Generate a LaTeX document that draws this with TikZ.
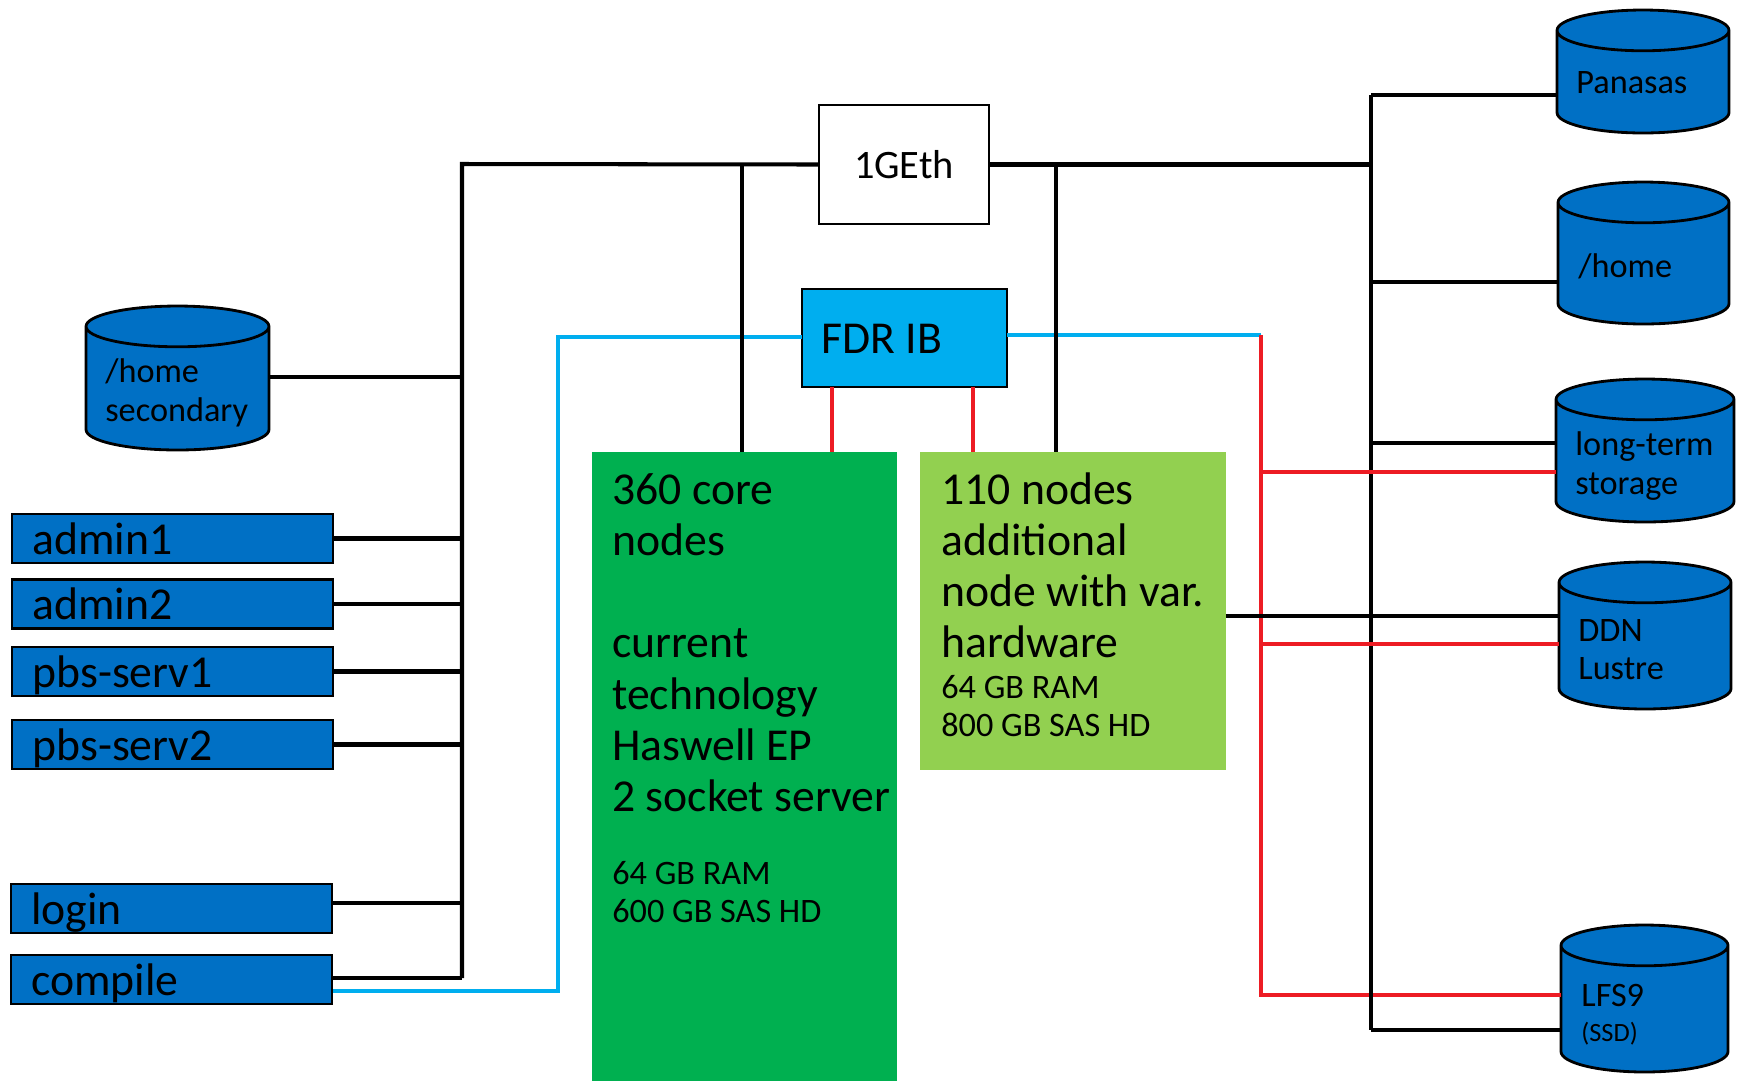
\documentclass[tikz,border=0pt]{standalone}
\usepackage{fontspec}
\setmainfont{Carlito}
\usetikzlibrary{shapes.geometric}
\definecolor{diskblue}{HTML}{0070C5}
\definecolor{ibcyan}{HTML}{00AEEF}
\definecolor{coregreen}{HTML}{00B050}
\definecolor{addlime}{HTML}{92D050}
\definecolor{ibred}{HTML}{ED1C24}
\newcommand{\bigtxt}{\fontsize{26}{29.2}\selectfont}
\newcommand{\smalltxt}{\fontsize{19.5}{21.8}\selectfont}
\tikzset{
server/.style={
       rectangle,
       fill=diskblue,
       draw=black,
       line width=1.6pt,
       minimum width=6.42cm,
       minimum height=0.98cm,
       outer sep=0pt,
       inner sep=0pt,
       },
disk/.style={
       cylinder,
       anchor=shape center,
       shape border rotate=90,
       shape aspect=5.8,
       fill=diskblue,
       draw=black,
       line width=1.6pt,
       outer sep=0pt,
       inner sep=2pt,
       },
switchbox/.style={
       rectangle,
       draw=black,
       line width=1.6pt,
       outer sep=0pt,
       },
nodeblock/.style={
       rectangle,
       outer sep=0pt,
       },
label/.style={
       anchor=west,
       inner sep=0pt,
       align=left,
       },
eth/.style={draw=black, line width=2.3pt},
ibc/.style={draw=ibcyan, line width=2.3pt},
ibr/.style={draw=ibred, line width=2.3pt},
}

\begin{document}
\begin{tikzpicture}[x=0.02cm,y=-0.02cm]
      \useasboundingbox (0,-1) rectangle (1741,1079);

      % switches and node blocks
      \node [switchbox, fill=white, minimum width=3.4cm, minimum height=2.38cm] (geth) at (904,163.5) {};
      \node [label, font=\fontsize{23}{29}\selectfont, anchor=center] (gethtxt) at (geth.center) {1GEth};
      \node [switchbox, fill=ibcyan, minimum width=4.1cm, minimum height=1.96cm] (fdr) at (904.5,337) {};
      \node [label, font=\bigtxt] (fdrtxt) at (821,338) {FDR IB};
      \node [nodeblock, fill=coregreen, minimum width=6.1cm, minimum height=12.58cm] (core) at (744.5,765.5) {};
      \node [nodeblock, fill=addlime, minimum width=6.12cm, minimum height=6.36cm] (extra) at (1073,610) {};
      \node [label, font=\bigtxt, anchor=north west] (coretxt) at (612,472) {360 core\\ nodes\\[29pt] current\\ technology\\ Haswell EP\\ 2 socket server\\[12pt] \smalltxt 64 GB RAM\\[-7.4pt] \smalltxt 600 GB SAS HD};
      \node [label, font=\bigtxt, anchor=north west] (extratxt) at (941,471) {110 nodes\\ additional\\ node with var.\\ hardware\\[-6.3pt] \smalltxt 64 GB RAM\\[-7.4pt] \smalltxt 800 GB SAS HD};

      % servers on the left
      \foreach \n/\l/\x/\y in {
          admin1/admin1/172.5/537.5,
          admin2/admin2/172.5/603,
          pbsa/pbs-serv1/172.5/670.5,
          pbsb/pbs-serv2/172.5/743.5,
          login/login/171.5/907.5,
          compile/compile/171.5/978.5
      } {
          \node [server] (\n) at (\x,\y) {};
          \node [label, font=\bigtxt, anchor=base west] (\n txt) at ([xshift=0.40cm,yshift=-0.31cm]\n.west) {\l};
      }

      % disks
      \foreach \n/\x/\y/\w/\h in {
          homesec/177.5/377/3.66cm/2.88cm,
          panasas/1643/70.5/3.44cm/2.46cm,
          home/1643.5/252/3.42cm/2.84cm,
          longterm/1645/449.5/3.56cm/2.86cm,
          ddn/1645/634.5/3.44cm/2.94cm,
          lfs/1644.5/997.5/3.34cm/2.94cm
      } {
          \node [disk, minimum width=\w, minimum height=\h] (\n) at (\x,\y) {};
      }
      \node [label, font=\smalltxt] (panasastxt) at (1576,82) {Panasas};
      \node [label, font=\smalltxt] (hometxt) at (1578,265) {/home};
      \node [label, font=\smalltxt] (homesectxt) at (105,392) {/home\\ secondary};
      \node [label, font=\smalltxt] (longtermtxt) at (1575,465) {long-term\\ storage};
      \node [label, font=\smalltxt] (ddntxt) at (1578,648.5) {DDN\\ Lustre};
      \node [label, font=\smalltxt] (lfstxt) at (1581,1014) {LFS9\\[-2pt] \fontsize{15}{21.8}\selectfont (SSD)};

      % bus ends
      \coordinate (lbustop) at (462,163);
      \coordinate (lbusbot) at (462,977);
      \coordinate (rbustop) at (1371,94);
      \coordinate (rbusbot) at (1371,1029);
      \coordinate (ibright) at (1261,334);
      \coordinate (ibbot) at (1261,994);
      \coordinate (ibleft) at (558,336);
      \coordinate (ibcomp) at (333,990);
      \coordinate (ethl) at (742,163);
      \coordinate (ethr) at (1056,163);

      % infiniband links
      \draw[ibc] (fdr.west |- ibleft) -- (ibleft) |- (ibcomp);
      \draw[ibc] (fdr.east |- ibright) -- (ibright);
      \draw[ibr] (ibright) -- (ibbot) -- (lfs.west |- ibbot);
      \draw[ibr] (fdr.south -| 832,0) -- (core.north -| 832,0);
      \draw[ibr] (fdr.south -| 973,0) -- (extra.north -| 973,0);

      % ethernet links
      \draw[eth] (lbusbot) -- (lbustop) -- (geth.west);
      \draw[eth] (geth.east) -- (rbustop |- geth.east);
      \draw[eth] (ethl) -- (ethl |- core.north);
      \draw[eth] (ethr) -- (ethr |- extra.north);
      \draw[eth] (rbustop) -- (rbusbot);
      \foreach \n in {admin1, admin2, pbsa, pbsb} {
          \draw[eth] (\n.east) -- (lbusbot |- \n.east);
      }
      \draw[eth] (homesec.east |- 0,376) -- (lbusbot |- 0,376);
      \draw[eth] (login.east |- 0,902) -- (lbusbot |- 0,902);
      \draw[eth] (compile.east |- lbusbot) -- (lbusbot);
      \draw[eth] (rbustop) -- (panasas.west |- rbustop);
      \draw[eth] (rbustop |- 0,281) -- (home.west |- 0,281);
      \draw[eth] (rbustop |- 0,442) -- (longterm.west |- 0,442);
      \draw[eth] (extra.east |- 0,615) -- (ddn.west |- 0,615);
      \draw[eth] (rbusbot) -- (lfs.west |- rbusbot);

      % red links on top of the bus
      \draw[ibr] (ibright |- 0,471) -- (longterm.west |- 0,471);
      \draw[ibr] (ibright |- 0,643) -- (ddn.west |- 0,643);
\end{tikzpicture}
\end{document}
